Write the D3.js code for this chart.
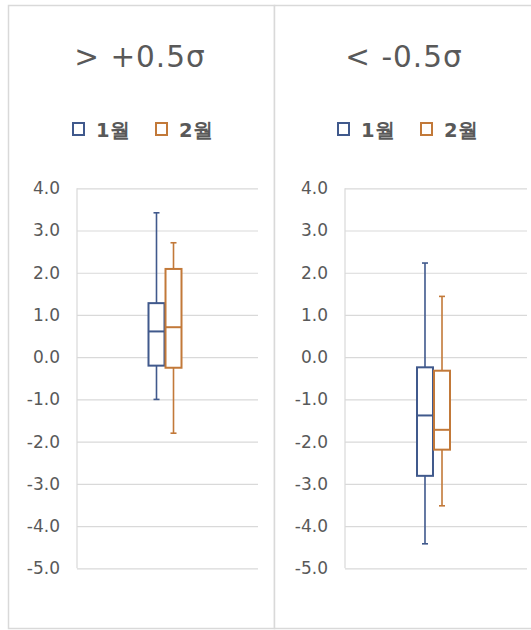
<!DOCTYPE html>
<html>
<head>
<meta charset="utf-8">
<script src="https://cdn.jsdelivr.net/npm/d3@7"></script>
<style>
  html, body { margin: 0; padding: 0; background: #ffffff; }
  svg { display: block; }
  text { font-family: "DejaVu Sans", "Noto Sans", sans-serif; }
</style>
</head>
<body>
<svg id="chart" width="531" height="630"></svg>
<script>
// Panel titles and series names
const panels = ["> +0.5σ", "< -0.5σ"];
const seriesNames = ["1월", "2월"];
const seriesColors = ["#40598c", "#c27939"];

// Box statistics per panel: [min, q1, median, q3, max]
const janStats = [
  [-1.0, -0.2, 0.61, 1.28, 3.42],
  [-4.42, -2.81, -1.38, -0.24, 2.23]
];
const febStats = [
  [-1.8, -0.25, 0.71, 2.09, 2.71],
  [-3.52, -2.19, -1.72, -0.32, 1.44]
];

// Axis ticks
const yTicks = [4, 3, 2, 1, 0, -1, -2, -3, -4, -5];

const svg = d3.select("#chart");
const gridColor = "#d9d9d9";
const textColor = "#595959";

const y = d3.scaleLinear().domain([-5, 4]).range([568.3, 188.3]);

const panelLayout = [
  { left: 8.5, right: 274.5, plotX0: 77, plotX1: 258, titleX: 140, legendX: 72 },
  { left: 274.5, right: 540, plotX0: 345, plotX1: 527, titleX: 404, legendX: 337 }
];

panels.forEach((title, p) => {
  const L = panelLayout[p];
  const g = svg.append("g");

  // panel frame
  g.append("rect")
    .attr("x", L.left).attr("y", 5.5)
    .attr("width", L.right - L.left).attr("height", 623)
    .attr("fill", "#ffffff")
    .attr("stroke", "#d9d9d9").attr("stroke-width", 1.5);

  // title
  g.append("text")
    .attr("x", L.titleX).attr("y", 67)
    .attr("text-anchor", "middle")
    .attr("font-size", 29.5)
    .attr("letter-spacing", 1)
    .attr("fill", textColor)
    .text(title);

  // legend
  const leg = g.append("g").attr("transform", `translate(${L.legendX},0)`);
  seriesNames.forEach((name, i) => {
    const lx = i * 83;
    leg.append("rect")
      .attr("x", lx + 1).attr("y", 123)
      .attr("width", 11).attr("height", 12)
      .attr("fill", "#ffffff")
      .attr("stroke", seriesColors[i]).attr("stroke-width", 2);
    leg.append("text")
      .attr("x", lx + 24).attr("y", 137)
      .attr("font-size", 19.5)
      .attr("font-weight", "bold")
      .attr("font-family", "\"Noto Sans CJK KR\", sans-serif")
      .attr("fill", textColor)
      .text(name);
  });

  // gridlines and y axis
  const axis = d3.axisLeft(y)
    .tickValues(yTicks)
    .tickFormat(d => d.toFixed(1))
    .tickSize(-(L.plotX1 - L.plotX0))
    .tickPadding(17);
  const ax = g.append("g")
    .attr("transform", `translate(${L.plotX0},0)`)
    .call(axis);
  ax.select(".domain").attr("stroke", gridColor).attr("stroke-width", 1.2)
    .attr("d", `M0,${y(4)}V${y(-5)}`);
  ax.selectAll(".tick line").attr("stroke", gridColor).attr("stroke-width", 1.2);
  ax.selectAll(".tick text")
    .attr("fill", textColor)
    .attr("font-size", 17)
    .attr("font-family", "\"DejaVu Sans\", sans-serif");

  // box plots
  const center = (L.plotX0 + L.plotX1) / 2 - 2.5;
  const x = d3.scaleBand().domain(seriesNames)
    .range([center - 16.5, center + 16.5]).paddingInner(0.06);
  const bw = x.bandwidth();
  const data = [janStats[p], febStats[p]];

  seriesNames.forEach((name, i) => {
    const [mn, q1, md, q3, mx] = data[i];
    const cx = x(name) + bw / 2;
    const col = seriesColors[i];
    const bg = g.append("g").attr("stroke", col).attr("stroke-width", 1.6).attr("fill", "none");
    // whiskers
    bg.append("line").attr("x1", cx).attr("x2", cx).attr("y1", y(mx)).attr("y2", y(q3));
    bg.append("line").attr("x1", cx).attr("x2", cx).attr("y1", y(q1)).attr("y2", y(mn));
    bg.append("line").attr("x1", cx - 3).attr("x2", cx + 3).attr("y1", y(mx)).attr("y2", y(mx));
    bg.append("line").attr("x1", cx - 3).attr("x2", cx + 3).attr("y1", y(mn)).attr("y2", y(mn));
    // box
    bg.append("rect")
      .attr("x", x(name)).attr("y", y(q3))
      .attr("width", bw).attr("height", y(q1) - y(q3))
      .attr("fill", "#ffffff").attr("stroke-width", 2);
    // median
    bg.append("line").attr("x1", x(name)).attr("x2", x(name) + bw)
      .attr("y1", y(md)).attr("y2", y(md)).attr("stroke-width", 2);
  });
});
</script>
</body>
</html>
